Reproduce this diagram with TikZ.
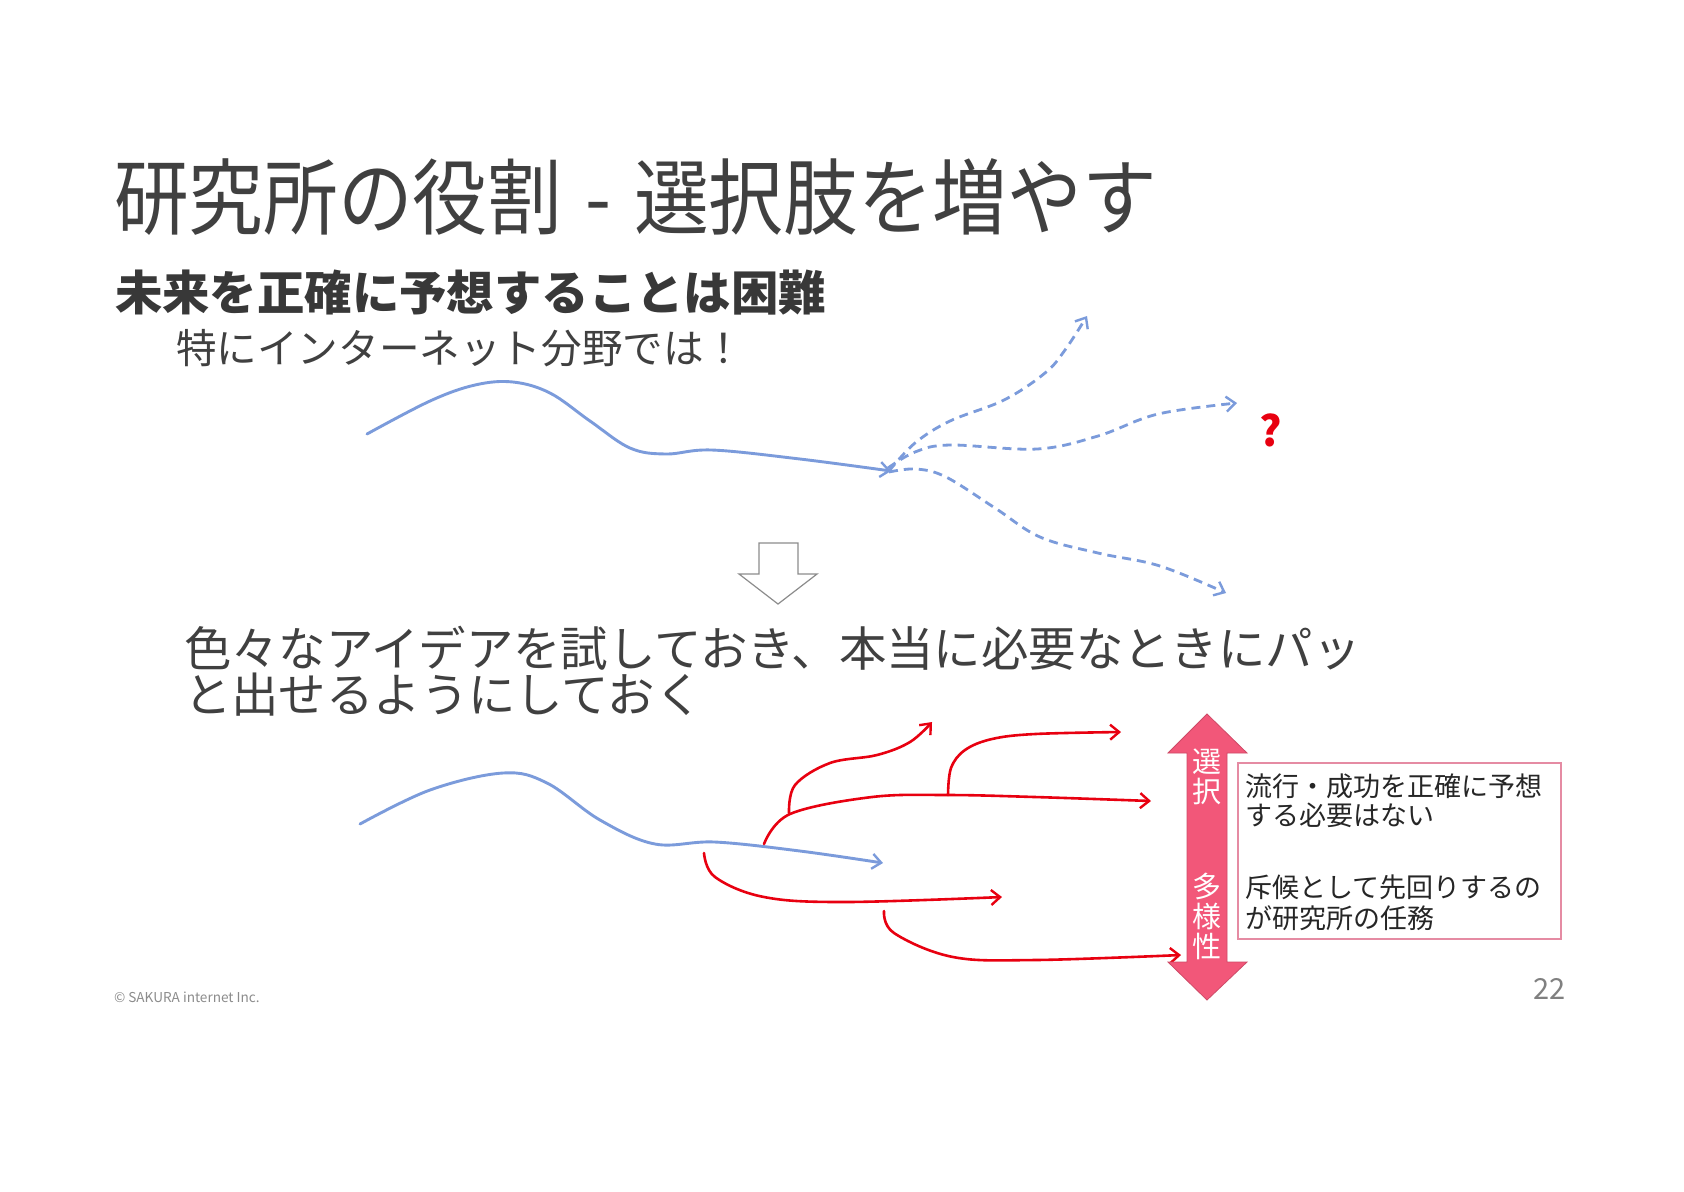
\documentclass[tikz,border=0pt]{standalone}
\usepackage{fontspec}
\usepackage{graphicx}
\setmainfont{Noto Sans CJK JP}
\usetikzlibrary{arrows.meta}
\definecolor{txt}{HTML}{404040}
\definecolor{lblue}{HTML}{7B9BDB}
\definecolor{lred}{HTML}{E80010}
\definecolor{pinkarrow}{HTML}{F25779}
\definecolor{pinkbox}{HTML}{E58BA3}
\definecolor{hollow}{HTML}{8C8C8C}
\tikzset{
  lbl/.style={inner sep=0pt, outer sep=0pt, text=txt},
  bluecurve/.style={draw=lblue, line width=1.45pt, line cap=round, -{Straight Barb[length=4.5pt,width=7.5pt,line width=1.2pt]}},
  bluedash/.style={draw=lblue, line width=1.4pt, dash pattern=on 4.5pt off 3pt, -{Straight Barb[length=4.5pt,width=7.5pt,line width=1.2pt]}},
  redcurve/.style={draw=lred, line width=1.3pt, line cap=round, -{Straight Barb[length=4.5pt,width=7.5pt,line width=1.2pt]}},
}
\begin{document}
\begin{tikzpicture}[x=0.5pt,y=-0.5pt]
\useasboundingbox[fill=white] (0,0) rectangle (1684,1191);

% titles
\node[lbl, anchor=west] (title) at (114,197) {\fontsize{41.5pt}{46pt}\selectfont\scalebox{0.9}[1]{研究所の役割\hspace{3.5pt} - \hspace{3.5pt}選択肢を増やす}};
\node[lbl, anchor=west, text=black!78] (sub1) at (115,293) {\fontsize{23.7pt}{28pt}\selectfont\bfseries 未来を正確に予想することは困難};
\node[lbl, anchor=west] (sub2) at (176,348) {\fontsize{20.3pt}{24pt}\selectfont 特にインターネット分野では！};

% upper curve
\draw[bluecurve] plot[smooth, tension=0.6] coordinates {(367,434) (430,401) (475,385) (513,382) (550,393) (590,421) (630,448) (666,454) (712,450) (800,459) (891,471)};
\draw[bluedash] plot[smooth, tension=0.6] coordinates {(889,471) (915,443) (950,421) (1004,400) (1045,373) (1065,350) (1087,316)};
\draw[bluedash] plot[smooth, tension=0.6] coordinates {(888,468) (915,452) (950,445) (1037,449) (1098,436) (1158,414) (1237,403)};
\draw[bluedash] plot[smooth, tension=0.6] coordinates {(889,472) (916,469) (946,477) (995,508) (1040,537) (1098,553) (1160,566) (1226,593)};
\node[inner sep=0pt, text=lred] (q) at (1271,430) {\fontsize{21pt}{24pt}\selectfont\bfseries ?};

% hollow down arrow
\draw[hollow, line width=0.6pt, fill=white] (759,543) -- (798,543) -- (798,574) -- (817,574) -- (778,604) -- (739,574) -- (759,574) -- cycle;

% main text
\node[lbl, anchor=west] (main1) at (184,648) {\fontsize{23.7pt}{28pt}\selectfont 色々なアイデアを試しておき、本当に必要なときにパッ};
\node[lbl, anchor=west] (main2) at (184,695) {\fontsize{23.7pt}{28pt}\selectfont と出せるようにしておく};

% lower curves
\draw[bluecurve] plot[smooth, tension=0.6] coordinates {(360,824) (430,790) (503,773) (547,783) (600,820) (655,844) (715,842) (800,851) (883,863)};
\draw[redcurve] plot[smooth, tension=0.6] coordinates {(764,844) (790,814) (872,797) (948,795) (1035,797) (1151,801)};
\draw[redcurve] plot[smooth, tension=0.6] coordinates {(789,813) (795,785) (830,763) (877,755) (910,742) (932,722)};
\draw[redcurve] plot[smooth, tension=0.6] coordinates {(948,795) (951,768) (965,750) (992,739) (1035,734) (1121,732)};
\draw[redcurve] plot[smooth, tension=0.6] coordinates {(704,853) (715,877) (764,897) (845,902) (1002,897)};
\draw[redcurve] plot[smooth, tension=0.6] coordinates {(884,911) (894,933) (953,957) (1035,960) (1181,955)};

% pink double arrow
\draw[fill=pinkarrow, draw=pinkarrow!85!black, line width=0.4pt] (1207,714) -- (1247,753) -- (1227,753) -- (1227,962) -- (1247,962) -- (1207,1000) -- (1168,962) -- (1187,962) -- (1187,753) -- (1168,753) -- cycle;
\node[inner sep=0pt, text=white, align=center, font=\fontsize{14.5pt}{15pt}\selectfont] (sel) at (1207,777) {選\\択};
\node[inner sep=0pt, text=white, align=center, font=\fontsize{14.5pt}{14.8pt}\selectfont] (div) at (1207,916.5) {多\\様\\性};

% box
\draw[pinkbox, line width=0.6pt] (1238,763) rectangle (1561,939);
\node[lbl, anchor=west, text=black!85] (b1) at (1245,786) {\fontsize{13.5pt}{16pt}\selectfont 流行・成功を正確に予想};
\node[lbl, anchor=west, text=black!85] (b2) at (1245,815) {\fontsize{13.5pt}{16pt}\selectfont する必要はない};
\node[lbl, anchor=west, text=black!85] (b3) at (1245,887) {\fontsize{13.5pt}{16pt}\selectfont 斥候として先回りするの};
\node[lbl, anchor=west, text=black!85] (b4) at (1245,918) {\fontsize{13.5pt}{16pt}\selectfont が研究所の任務};

% footer
\node[lbl, anchor=west, text=black!45] (copy) at (114,997) {\fontsize{6.8pt}{8pt}\selectfont © SAKURA internet Inc.};
\node[lbl, anchor=east, text=black!50] (page) at (1566,989) {\fontsize{14.5pt}{16pt}\selectfont 22};
\end{tikzpicture}
\end{document}
